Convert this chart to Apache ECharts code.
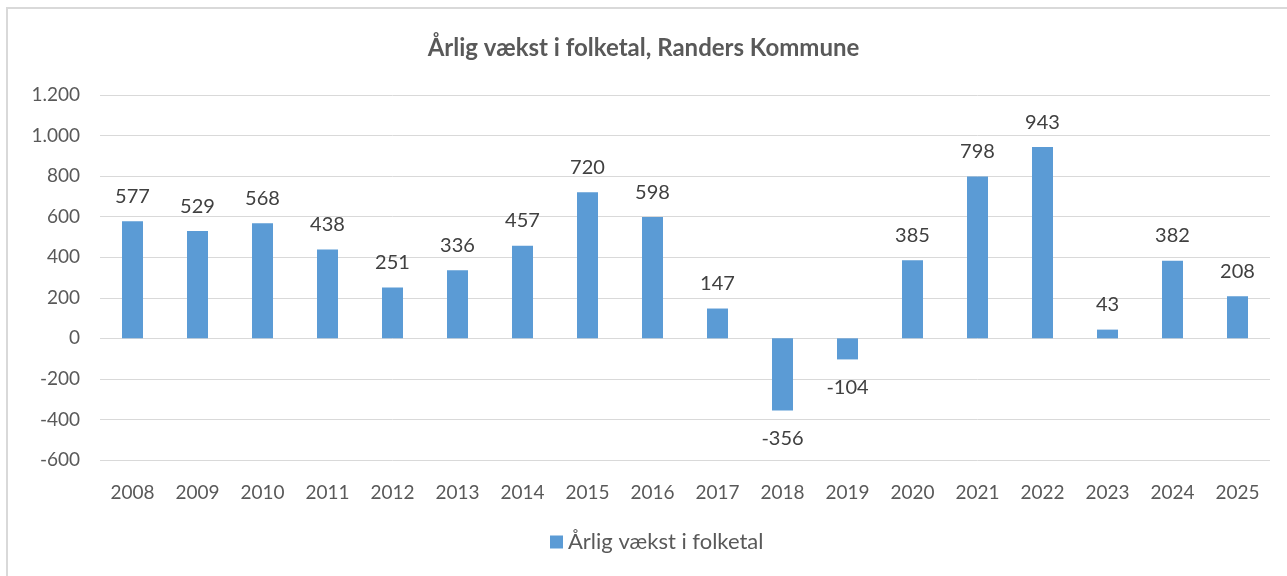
<!DOCTYPE html>
<html>
<head>
<meta charset="utf-8">
<script src="https://cdn.jsdelivr.net/npm/echarts@6/dist/echarts.min.js"></script>
<style>
  html, body { margin: 0; padding: 0; background: #fff; }
  #main { width: 1287px; height: 576px; }
</style>
</head>
<body>
<div id="main"></div>
<script>
const years = ['2008', '2009', '2010', '2011', '2012', '2013', '2014', '2015', '2016',
  '2017', '2018', '2019', '2020', '2021', '2022', '2023', '2024', '2025']
const growth = [577, 529, 568, 438, 251, 336, 457, 720, 598, 147, -356, -104, 385, 798, 943, 43, 382, 208]
const seriesName = 'Årlig vækst i folketal'

const fontFamily = 'Lato, "Open Sans", sans-serif'

const chart = echarts.init(document.getElementById('main'))

const option = {
  backgroundColor: '#fff',
  animation: false,
  title: {
    text: 'Årlig vækst i folketal, Randers Kommune',
    left: 'center',
    top: 31,
    textStyle: {
      color: '#595959',
      fontSize: 24,
      fontWeight: 'bold',
      fontFamily: fontFamily
    }
  },
  graphic: [
    {
      type: 'rect',
      shape: { x: 7, y: 8, width: 1300, height: 600 },
      style: { fill: 'none', stroke: '#d9d9d9', lineWidth: 2 },
      silent: true
    }
  ],
  legend: {
    bottom: 18,
    left: 545,
    icon: 'rect',
    itemWidth: 13,
    itemHeight: 13,
    itemGap: 5,
    textStyle: {
      color: '#595959',
      fontSize: 22,
      fontFamily: fontFamily
    },
    data: [seriesName]
  },
  grid: {
    left: 100,
    right: 17,
    top: 95,
    bottom: 116
  },
  xAxis: {
    type: 'category',
    data: years,
    axisLine: { show: false },
    axisTick: { show: false },
    axisLabel: {
      color: '#595959',
      fontSize: 19,
      fontFamily: fontFamily,
      margin: 23
    }
  },
  yAxis: {
    type: 'value',
    min: -600,
    max: 1200,
    interval: 200,
    axisLine: { show: false },
    axisTick: { show: false },
    axisLabel: {
      color: '#595959',
      fontSize: 19,
      fontFamily: fontFamily,
      margin: 20,
      formatter: (v) => {
        const s = Math.abs(v).toString().replace(/\B(?=(\d{3})+(?!\d))/g, '.')
        return (v < 0 ? '-' : '') + s
      }
    },
    splitLine: {
      lineStyle: { color: '#d9d9d9', width: 1 }
    }
  },
  series: [
    {
      name: seriesName,
      type: 'bar',
      barWidth: 21,
      itemStyle: { color: '#5b9bd5' },
      label: {
        show: true,
        color: '#404040',
        fontSize: 20,
        fontFamily: fontFamily,
        distance: 15
      },
      data: growth.map((v) => ({
        value: v,
        label: v < 0 ? { position: 'bottom', distance: 18 } : { position: 'top' }
      }))
    }
  ]
}

chart.setOption(option)
</script>
</body>
</html>
